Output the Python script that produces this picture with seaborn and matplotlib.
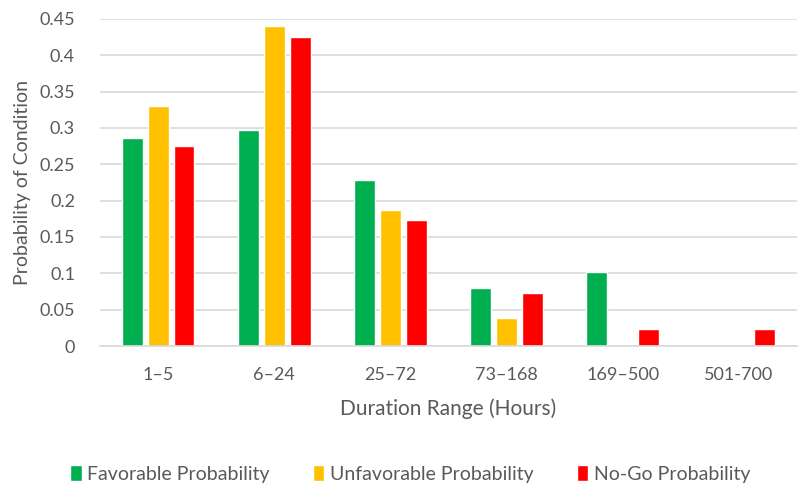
import pandas as pd
import numpy as np
import matplotlib
matplotlib.use('Agg')
import matplotlib.pyplot as plt
import seaborn as sns

# chart data
durations = ['1–5', '6–24', '25–72', '73–168', '169–500', '501-700']
favorable = [0.286, 0.297, 0.228, 0.080, 0.102, 0.0]
unfavorable = [0.330, 0.440, 0.187, 0.039, 0.0, 0.0]
nogo = [0.275, 0.425, 0.174, 0.073, 0.024, 0.024]
series_names = ['Favorable Probability', 'Unfavorable Probability', 'No-Go Probability']
colors = ['#00B050', '#FFC000', '#FF0000']
yticks = [0, 0.05, 0.1, 0.15, 0.2, 0.25, 0.3, 0.35, 0.4, 0.45]
ytick_labels = ['0', '0.05', '0.1', '0.15', '0.2', '0.25', '0.3', '0.35', '0.4', '0.45']

df = pd.DataFrame({'Duration': durations * 3,
                   'Series': np.repeat(series_names, len(durations)),
                   'Value': favorable + unfavorable + nogo})

sns.set_style('white')
plt.rcParams['font.family'] = ['Lato', 'DejaVu Sans']

fig = plt.figure(figsize=(8.01, 4.84), dpi=100)
ax = fig.add_axes([0.125, 0.285, 0.87, 0.676])

sns.barplot(data=df, x='Duration', y='Value', hue='Series', order=durations,
            hue_order=series_names, palette=colors, width=0.667, gap=0.19,
            saturation=1, ax=ax, legend=True)

ax.set_ylim(0, 0.45)
ax.set_xlim(-0.5, 5.5)
ax.set_yticks(yticks)
ax.set_yticklabels(ytick_labels)
ax.yaxis.grid(True, color='#D9D9D9', linewidth=1.2)
ax.set_axisbelow(True)
for s in ['top', 'right', 'left']:
    ax.spines[s].set_visible(False)
ax.spines['bottom'].set_color('#D9D9D9')
ax.spines['bottom'].set_linewidth(1.2)
ax.tick_params(axis='both', length=0, labelsize=13, colors='#595959')
ax.tick_params(axis='x', pad=15)
ax.tick_params(axis='y', pad=18)

ax.set_xlabel('Duration Range (Hours)', fontsize=15, color='#595959', labelpad=11)
ax.set_ylabel('Probability of Condition', fontsize=14, color='#595959', labelpad=6)

ax.legend(loc='upper center', bbox_to_anchor=(0.445, -0.31), ncol=3, frameon=False,
          fontsize=14, labelcolor='#595959', handlelength=0.6, handleheight=0.9,
          handletextpad=0.3, columnspacing=2.2)

plt.savefig('out.png', dpi=100)
